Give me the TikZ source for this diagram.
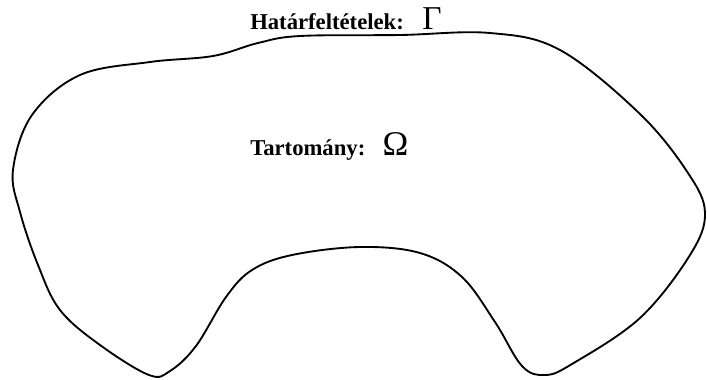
\documentclass[tikz,border=0pt]{standalone}
\usepackage{fontspec}
\setmainfont{Liberation Serif}
\usepackage{tikz}
\usetikzlibrary{positioning}

\begin{document}
\begin{tikzpicture}[x=0.75pt,y=-0.75pt,
  lbl/.style={anchor=base west,inner sep=0pt,font=\fontsize{17}{20}\selectfont\bfseries}]
\useasboundingbox (0,0) rectangle (707,379);
% Boundary of the domain
\draw[line width=1.4pt,line join=round] plot[smooth cycle,tension=0.6] coordinates {
  (13,170) (32,115) (80,75) (150,62) (213,56) (258,43) (300,36) (400,35)
  (490,33) (560,50) (640,114) (688,173) (705,213) (690,255) (640,318)
  (572,364) (545,375) (522,366) (495,322) (462,277) (420,253) (360,247)
  (292,255) (252,270) (226,297) (196,346) (170,371) (149,375) (100,345)
  (60,310) (38,265) (20,212)};
% Labels
\node[lbl] (bnd) at (250,29) {Határfeltételek:\hspace{14pt}{\fontsize{25}{28}\selectfont\mdseries Γ}};
\node[lbl] (dom) at (250,155) {Tartomány:\hspace{13pt}{\fontsize{26}{28}\selectfont\mdseries Ω}};
\end{tikzpicture}
\end{document}
